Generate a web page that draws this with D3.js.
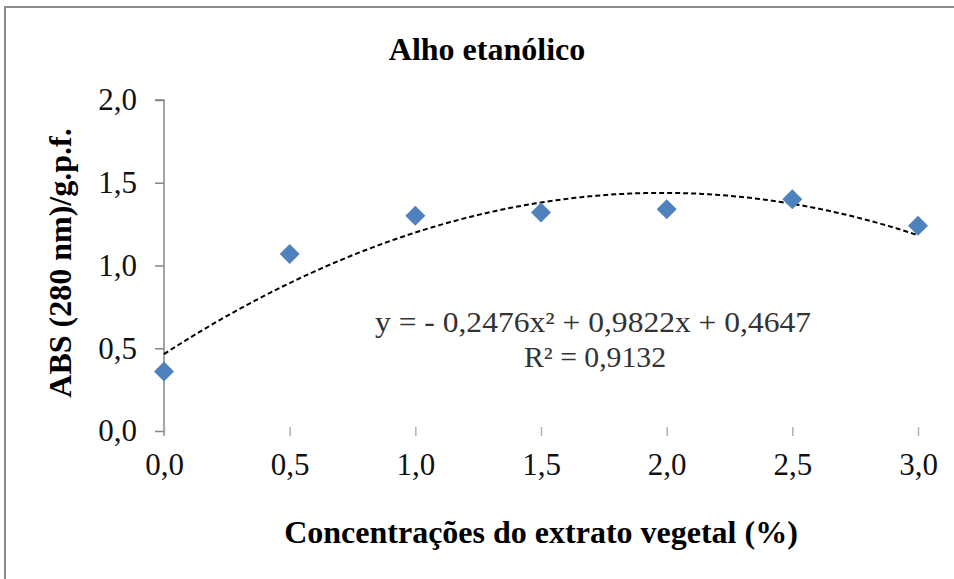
<!DOCTYPE html>
<html>
<head>
<meta charset="utf-8">
<script src="https://cdn.jsdelivr.net/npm/d3@7"></script>
<style>
  html, body { margin: 0; padding: 0; background: #fff; }
  svg { display: block; }
</style>
</head>
<body>
<svg id="chart" width="954" height="579"></svg>
<script>
// ---- data ----
const concentrations = [0.0, 0.5, 1.0, 1.5, 2.0, 2.5, 3.0];
const absValues = [0.36, 1.07, 1.30, 1.32, 1.34, 1.40, 1.24];
const xTicks = [0.0, 0.5, 1.0, 1.5, 2.0, 2.5, 3.0];
const yTicks = [0.0, 0.5, 1.0, 1.5, 2.0];
const trendCoefficients = [-0.2476, 0.9822, 0.4647]; // a, b, c
const titleText = "Alho etanólico";
const xTitleText = "Concentrações do extrato vegetal (%)";
const yTitleText = "ABS (280 nm)/g.p.f.";
const equationText = "y = - 0,2476x² + 0,9822x + 0,4647";
const r2Text = "R² = 0,9132";

// ---- layout ----
const svg = d3.select("#chart");
const font = "'Liberation Serif', 'Times New Roman', serif";
const fmt = v => d3.format(".1f")(v).replace(".", ",");

const x = d3.scaleLinear().domain([0, 3]).range([164, 918]);
const y = d3.scaleLinear().domain([0, 2]).range([431, 100]);

// outer frame
svg.append("rect")
  .attr("x", 5).attr("y", 7).attr("width", 960).attr("height", 590)
  .attr("fill", "#fff").attr("stroke", "#8c8c8c").attr("stroke-width", 2);

// title
svg.append("text")
  .attr("x", 487).attr("y", 60)
  .attr("text-anchor", "middle")
  .attr("font-family", font).attr("font-weight", "bold").attr("font-size", 32)
  .attr("fill", "#000")
  .text(titleText);

// y axis
const yAxis = d3.axisLeft(y).tickValues(yTicks).tickFormat(fmt).tickSize(9).tickPadding(18);
const gy = svg.append("g").attr("transform", "translate(164,0)").call(yAxis);
gy.select(".domain").attr("stroke", "#868686").attr("stroke-width", 1.5)
  .attr("d", `M-9,${y(2)}H0V${y(0) + 5}`);
gy.selectAll(".tick line").attr("stroke", "#868686").attr("stroke-width", 1.5);
gy.selectAll(".tick text")
  .attr("font-family", font).attr("font-size", 31).attr("fill", "#111");

// x axis (ticks only)
const xAxis = d3.axisBottom(x).tickValues(xTicks).tickFormat(fmt).tickSize(9).tickPadding(17);
const gx = svg.append("g").attr("transform", `translate(0,${y(0) - 4})`).call(xAxis);
gx.select(".domain").remove();
gx.selectAll(".tick line").attr("stroke", "#b0b0b0").attr("stroke-width", 1.5);
gx.selectAll(".tick text")
  .attr("font-family", font).attr("font-size", 31).attr("fill", "#111");

// axis titles
svg.append("text")
  .attr("x", 541).attr("y", 543)
  .attr("text-anchor", "middle")
  .attr("font-family", font).attr("font-weight", "bold").attr("font-size", 32)
  .attr("fill", "#000")
  .text(xTitleText);

svg.append("text")
  .attr("transform", "translate(71,263) rotate(-90)")
  .attr("text-anchor", "middle")
  .attr("font-family", font).attr("font-weight", "bold").attr("font-size", 32)
  .attr("fill", "#000")
  .text(yTitleText);

// trendline
const [a, b, c] = trendCoefficients;
const trendPts = d3.range(0, 3.0001, 0.02).map(t => [t, a * t * t + b * t + c]);
svg.append("path")
  .datum(trendPts)
  .attr("fill", "none")
  .attr("stroke", "#000")
  .attr("stroke-width", 2)
  .attr("stroke-dasharray", "5,3")
  .attr("d", d3.line().x(d => x(d[0])).y(d => y(d[1])).curve(d3.curveMonotoneX));

// points (diamonds)
const diamond = d3.symbol().type(d3.symbolSquare).size(200);
svg.append("g").selectAll("path")
  .data(concentrations.map((cv, i) => [cv, absValues[i]]))
  .join("path")
  .attr("d", diamond)
  .attr("transform", d => `translate(${x(d[0])},${y(d[1])}) rotate(45)`)
  .attr("fill", "#4f81bd");

// equation
svg.append("text")
  .attr("x", 593).attr("y", 332)
  .attr("text-anchor", "middle")
  .attr("font-family", font).attr("font-size", 29).attr("fill", "#333")
  .attr("textLength", 436).attr("lengthAdjust", "spacingAndGlyphs")
  .text(equationText);
svg.append("text")
  .attr("x", 595).attr("y", 367)
  .attr("text-anchor", "middle")
  .attr("font-family", font).attr("font-size", 29).attr("fill", "#333")
  .attr("textLength", 142).attr("lengthAdjust", "spacingAndGlyphs")
  .text(r2Text);
</script>
</body>
</html>
